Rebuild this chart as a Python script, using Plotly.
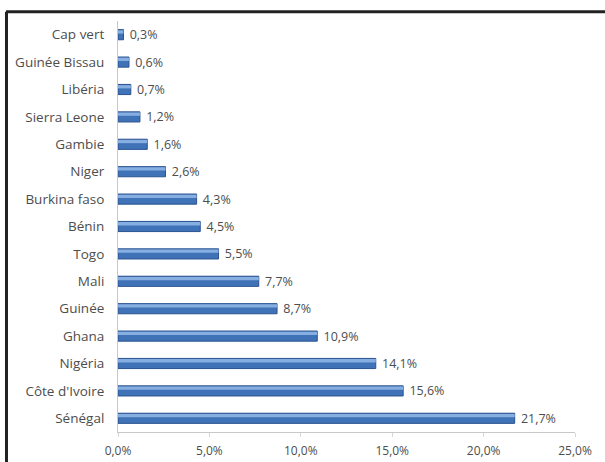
import plotly.graph_objects as go

# Share by country (%), listed top to bottom
countries = ["Cap vert", "Guinée Bissau", "Libéria", "Sierra Leone", "Gambie", "Niger",
             "Burkina faso", "Bénin", "Togo", "Mali", "Guinée", "Ghana", "Nigéria",
             "Côte d'Ivoire", "Sénégal"]
shares = [0.3, 0.6, 0.7, 1.2, 1.6, 2.6, 4.3, 4.5, 5.5, 7.7, 8.7, 10.9, 14.1, 15.6, 21.7]

tick_vals = [0, 5, 10, 15, 20, 25]
tick_text = ["0,0%", "5,0%", "10,0%", "15,0%", "20,0%", "25,0%"]

# value labels with decimal comma, pushed a little away from the bar end
labels = ["\u00a0" + f"{v:.1f}".replace(".", ",") + "%" for v in shares]

font_family = "'Open Sans', Lato, sans-serif"
txt_color = "#4d4d4d"

fig = go.Figure()

# main bar body
fig.add_trace(go.Bar(
    y=countries, x=shares, orientation="h", width=0.37,
    marker=dict(color="#3f72b6", line=dict(color="#2a5390", width=1)),
    text=labels, textposition="outside", cliponaxis=False, constraintext="none",
    textfont=dict(family=font_family, size=12.5, color=txt_color),
    hoverinfo="skip",
))
# lighter upper band for a shaded look
fig.add_trace(go.Bar(
    y=countries, x=shares, orientation="h", width=0.12, offset=-0.16,
    marker=dict(color="#86aee0", line=dict(width=0)),
    hoverinfo="skip",
))

fig.update_layout(
    width=605, height=462,
    margin=dict(l=118, r=30, t=21, b=30, autoexpand=False),
    paper_bgcolor="white", plot_bgcolor="white",
    barmode="overlay", showlegend=False,
    font=dict(family=font_family, size=12, color=txt_color),
    xaxis=dict(range=[0, 25], tickvals=tick_vals, ticktext=tick_text,
               showgrid=False, zeroline=False, showline=True, automargin=False,
               linecolor="#c8c8c8", linewidth=1, ticks="outside",
               tickcolor="#d8d8d8", ticklen=4, ticklabelstandoff=4,
               tickfont=dict(size=12)),
    yaxis=dict(autorange="reversed", showgrid=False, showline=True, automargin=False,
               linecolor="#c8c8c8", linewidth=1, ticks="", ticklabelstandoff=10,
               tickfont=dict(size=13.5)),
    shapes=[
        dict(type="line", xref="paper", yref="paper", x0=-0.245, x1=1.2,
             y0=1.0225, y1=1.0225, line=dict(color="#222222", width=3)),
        dict(type="line", xref="paper", yref="paper", x0=-0.244, x1=-0.244,
             y0=-0.1, y1=1.0225, line=dict(color="#222222", width=3)),
    ],
)

fig.write_html(
    "out.html",
    post_script="document.body.style.margin='0';document.body.style.overflow='hidden';"
                "document.documentElement.style.overflow='hidden';",
)
